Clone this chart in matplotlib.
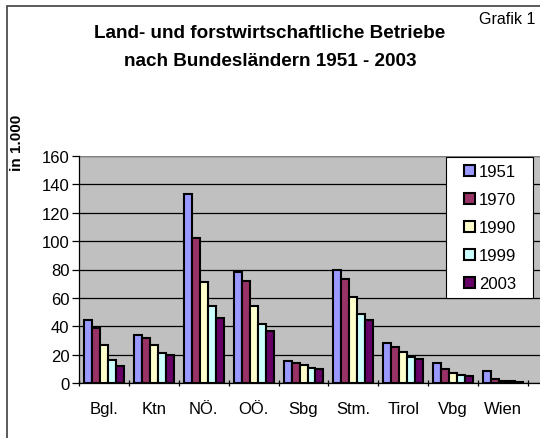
import numpy as np
import matplotlib
matplotlib.use("Agg")
import matplotlib.pyplot as plt
from matplotlib.patches import Rectangle

plt.rcParams['font.family'] = ['Liberation Sans', 'DejaVu Sans']

laender = ["Bgl.", "Ktn", "NÖ.", "OÖ.", "Sbg", "Stm.", "Tirol", "Vbg", "Wien"]
jahre = ["1951", "1970", "1990", "1999", "2003"]
b1951 = [44.5, 33.6, 133.2, 78.3, 15.2, 79.3, 28.1, 13.9, 8.8]
b1970 = [38.7, 31.6, 101.9, 71.9, 13.9, 73.4, 25.4, 10.0, 2.7]
b1990 = [27.0, 26.6, 71.1, 54.5, 12.5, 60.9, 21.9, 7.2, 1.6]
b1999 = [16.2, 21.3, 54.5, 41.8, 10.7, 48.6, 18.4, 5.5, 1.2]
b2003 = [11.9, 19.9, 46.1, 36.9, 10.0, 44.1, 17.0, 4.9, 1.0]
farben = ["#9999FF", "#993366", "#FFFFCC", "#CCFFFF", "#660066"]

fig = plt.figure(figsize=(5.4, 4.39), dpi=100)
ax = fig.add_axes([79 / 540, 1 - 384 / 439, 1 - 79 / 540, (384 - 157) / 439])
ax.set_facecolor("#C0C0C0")

x = np.arange(len(laender))
w = 0.16
for i, (werte, jahr) in enumerate(zip([b1951, b1970, b1990, b1999, b2003], jahre)):
    ax.bar(x + (i - 2) * w, werte, w, color=farben[i], edgecolor="black",
           linewidth=1.5, label=jahr, zorder=3)

ax.set_ylim(0, 160)
ax.set_xlim(-0.5, 8.74)
ax.set_yticks(range(0, 161, 20))
ax.yaxis.grid(True, color="black", linewidth=0.9, zorder=0)
ax.set_axisbelow(True)

ax.set_xticks(x)
ax.set_xticklabels(laender, fontsize=12)
ax.set_xticks(np.arange(-0.5, 9, 1), minor=True)
ax.tick_params(axis="x", which="major", length=0, pad=13)
ax.tick_params(axis="x", which="minor", length=4, direction="inout", width=0.9)
ax.tick_params(axis="y", labelsize=12, length=5, width=0.9, pad=2)

for s in ["top", "right"]:
    ax.spines[s].set_visible(False)
ax.spines["left"].set_linewidth(0.9)
ax.spines["bottom"].set_linewidth(0.9)
ax.axhline(160, color="#808080", linewidth=1.5, zorder=1)

# legend box (white, black border), entries drawn by legend without frame
ax.add_patch(Rectangle(((446 - 79) / 461, (384 - 299) / 227), 87 / 461, 141 / 227,
                       transform=ax.transAxes, facecolor="white", edgecolor="black",
                       linewidth=0.8, zorder=4))
leg = ax.legend(loc="upper left", bbox_to_anchor=((464 - 79) / 461, (384 - 165) / 227),
                fontsize=12, frameon=False, handlelength=0.66, handleheight=0.66,
                handletextpad=0.25, labelspacing=0.78, borderpad=0, borderaxespad=0)
leg.set_zorder(5)

fig.text(0.5, 1 - 34 / 439, "Land- und forstwirtschaftliche Betriebe",
         ha="center", va="center", fontsize=13.6, fontweight="bold")
fig.text(0.5, 1 - 61 / 439, "nach Bundesländern 1951 - 2003",
         ha="center", va="center", fontsize=13.6, fontweight="bold")
fig.text(535 / 540, 1 - 19 / 439, "Grafik 1", ha="right", va="center", fontsize=11.5)
fig.text(17 / 540, 1 - 143 / 439, "in 1.000", ha="center", va="center",
         rotation=90, fontsize=11, fontweight="bold")

fig.patches.append(Rectangle((7 / 540, -0.1), 1.2, 1 - 7 / 439 + 0.1,
                             transform=fig.transFigure, fill=False,
                             edgecolor="#404040", linewidth=1.2))

fig.savefig("out.png", dpi=100)
